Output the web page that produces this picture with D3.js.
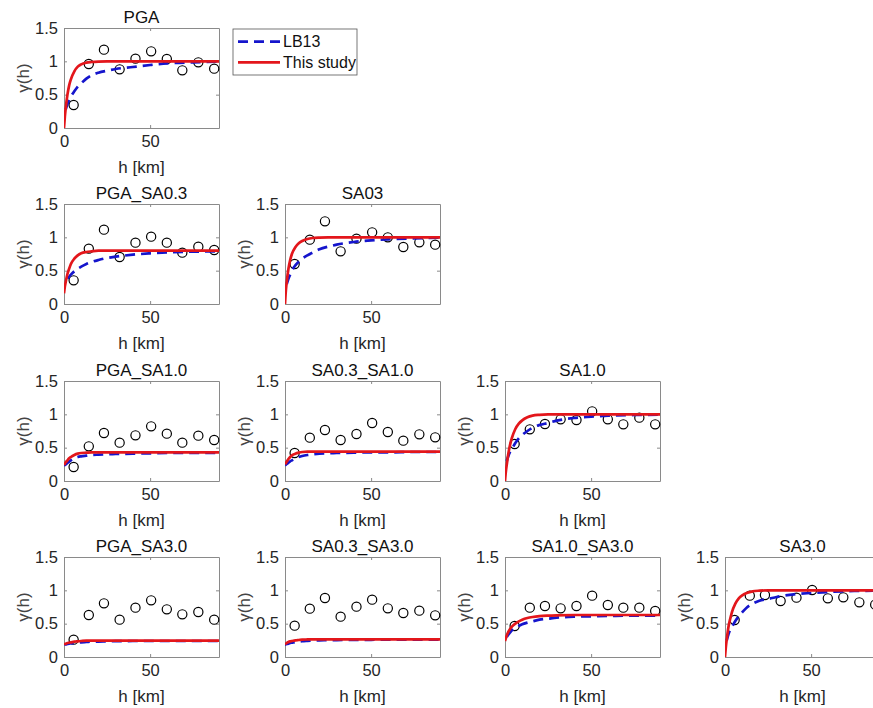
<!DOCTYPE html>
<html>
<head>
<meta charset="utf-8">
<script src="https://cdn.jsdelivr.net/npm/d3@7"></script>
<style>
  body { margin: 0; background: #fff; }
  svg text { font-family: "Liberation Sans", Arial, Helvetica, sans-serif; font-weight: normal; fill: #262626; }
</style>
</head>
<body>
<div id="fig"></div>
<script>
// observed semivariogram bins (km)
const hObs = [5.6, 14.4, 23.2, 32.3, 41.5, 50.6, 59.7, 68.7, 78.0, 87.2]
const hCurve = [0, 0.5, 1, 2, 3, 4, 6, 8, 10, 13, 16, 20, 25, 30, 40, 50, 60, 75, 90]

const titles = ["PGA", "PGA_SA0.3", "SA03", "PGA_SA1.0", "SA0.3_SA1.0", "SA1.0",
  "PGA_SA3.0", "SA0.3_SA3.0", "SA1.0_SA3.0", "SA3.0"]
const rowOf = [0, 1, 1, 2, 2, 2, 3, 3, 3, 3]
const colOf = [0, 0, 1, 0, 1, 2, 0, 1, 2, 3]

// empirical points
const obs_PGA        = [0.345, 0.96, 1.175, 0.88, 1.04, 1.15, 1.035, 0.865, 0.985, 0.89]
const obs_PGA_SA03   = [0.355, 0.83, 1.115, 0.705, 0.92, 1.01, 0.92, 0.77, 0.86, 0.81]
const obs_SA03       = [0.6, 0.965, 1.24, 0.79, 0.98, 1.075, 1.0, 0.855, 0.925, 0.89]
const obs_PGA_SA10   = [0.21, 0.52, 0.72, 0.575, 0.685, 0.82, 0.71, 0.575, 0.68, 0.615]
const obs_SA03_SA10  = [0.42, 0.65, 0.765, 0.615, 0.705, 0.87, 0.735, 0.605, 0.70, 0.655]
const obs_SA10       = [0.555, 0.775, 0.855, 0.925, 0.915, 1.045, 0.925, 0.85, 0.95, 0.85]
const obs_PGA_SA30   = [0.26, 0.63, 0.805, 0.56, 0.74, 0.85, 0.715, 0.64, 0.675, 0.56]
const obs_SA03_SA30  = [0.47, 0.725, 0.885, 0.605, 0.755, 0.86, 0.73, 0.66, 0.695, 0.625]
const obs_SA10_SA30  = [0.465, 0.74, 0.765, 0.73, 0.765, 0.92, 0.78, 0.74, 0.74, 0.69]
const obs_SA30       = [0.555, 0.92, 0.93, 0.84, 0.89, 1.005, 0.88, 0.895, 0.82, 0.785]

// LB13 model (blue dashed), null = not drawn
const lb_PGA       = [null, null, 0.28, 0.36, 0.42, 0.47, 0.55, 0.62, 0.67, 0.74, 0.79, 0.83, 0.86, 0.885, 0.915, 0.945, 0.97, 0.985, 0.995]
const lb_PGA_SA03  = [null, null, null, 0.38, 0.41, 0.44, 0.49, 0.53, 0.56, 0.60, 0.63, 0.66, 0.69, 0.71, 0.74, 0.76, 0.775, 0.785, 0.79]
const lb_SA03      = [null, null, 0.30, 0.38, 0.44, 0.50, 0.58, 0.635, 0.68, 0.73, 0.77, 0.82, 0.86, 0.89, 0.93, 0.955, 0.97, 0.985, 0.995]
const lb_PGA_SA10  = [0.23, 0.24, 0.25, 0.27, 0.29, 0.31, 0.34, 0.36, 0.37, 0.38, 0.39, 0.395, 0.40, 0.405, 0.41, 0.415, 0.42, 0.42, 0.42]
const lb_SA03_SA10 = [0.235, 0.245, 0.255, 0.275, 0.295, 0.31, 0.34, 0.36, 0.375, 0.39, 0.40, 0.41, 0.415, 0.42, 0.425, 0.43, 0.43, 0.435, 0.435]
const lb_SA10      = [null, null, 0.30, 0.38, 0.44, 0.48, 0.57, 0.64, 0.69, 0.75, 0.80, 0.84, 0.87, 0.905, 0.945, 0.965, 0.98, 0.99, 0.995]
const lb_PGA_SA30  = [0.185, 0.19, 0.19, 0.195, 0.20, 0.205, 0.21, 0.215, 0.22, 0.225, 0.23, 0.232, 0.235, 0.237, 0.24, 0.24, 0.24, 0.24, 0.24]
const lb_SA03_SA30 = [0.19, 0.19, 0.195, 0.20, 0.21, 0.215, 0.225, 0.232, 0.238, 0.243, 0.247, 0.25, 0.252, 0.254, 0.256, 0.258, 0.26, 0.26, 0.26]
const lb_SA10_SA30 = [null, null, 0.30, 0.34, 0.37, 0.40, 0.435, 0.465, 0.49, 0.515, 0.535, 0.56, 0.575, 0.59, 0.605, 0.61, 0.615, 0.62, 0.62]
const lb_SA30      = [null, null, 0.25, 0.34, 0.41, 0.45, 0.54, 0.61, 0.67, 0.75, 0.80, 0.845, 0.87, 0.90, 0.94, 0.96, 0.975, 0.99, 0.995]

// this study (red solid)
const st_PGA       = [0, 0.17, 0.30, 0.50, 0.64, 0.73, 0.85, 0.92, 0.955, 0.98, 0.99, 0.997, 1, 1, 1, 1, 1, 1, 1]
const st_PGA_SA03  = [0.16, 0.26, 0.33, 0.45, 0.53, 0.60, 0.68, 0.73, 0.76, 0.78, 0.79, 0.80, 0.80, 0.80, 0.80, 0.80, 0.80, 0.80, 0.80]
const st_SA03      = [0, 0.20, 0.33, 0.53, 0.66, 0.75, 0.85, 0.91, 0.945, 0.975, 0.99, 0.997, 1, 1, 1, 1, 1, 1, 1]
const st_PGA_SA10  = [0.24, 0.26, 0.28, 0.31, 0.34, 0.36, 0.39, 0.41, 0.42, 0.425, 0.43, 0.43, 0.43, 0.43, 0.43, 0.43, 0.43, 0.43, 0.43]
const st_SA03_SA10 = [0.25, 0.27, 0.29, 0.33, 0.36, 0.385, 0.41, 0.425, 0.435, 0.44, 0.44, 0.44, 0.44, 0.44, 0.44, 0.44, 0.44, 0.44, 0.44]
const st_SA10      = [0, 0.14, 0.24, 0.42, 0.55, 0.645, 0.78, 0.86, 0.91, 0.955, 0.98, 0.993, 1, 1, 1, 1, 1, 1, 1]
const st_PGA_SA30  = [0.19, 0.195, 0.20, 0.21, 0.215, 0.22, 0.23, 0.235, 0.24, 0.245, 0.245, 0.245, 0.245, 0.245, 0.245, 0.245, 0.245, 0.245, 0.245]
const st_SA03_SA30 = [0.195, 0.20, 0.21, 0.225, 0.235, 0.24, 0.25, 0.255, 0.26, 0.263, 0.265, 0.265, 0.265, 0.265, 0.265, 0.265, 0.265, 0.265, 0.265]
const st_SA10_SA30 = [0.24, 0.28, 0.32, 0.38, 0.425, 0.455, 0.50, 0.535, 0.56, 0.585, 0.60, 0.612, 0.62, 0.625, 0.63, 0.63, 0.63, 0.63, 0.63]
const st_SA30      = [0, 0.15, 0.26, 0.45, 0.57, 0.67, 0.80, 0.88, 0.925, 0.965, 0.985, 0.995, 1, 1, 1, 1, 1, 1, 1]

const obsList = [obs_PGA, obs_PGA_SA03, obs_SA03, obs_PGA_SA10, obs_SA03_SA10, obs_SA10, obs_PGA_SA30, obs_SA03_SA30, obs_SA10_SA30, obs_SA30]
const lbList = [lb_PGA, lb_PGA_SA03, lb_SA03, lb_PGA_SA10, lb_SA03_SA10, lb_SA10, lb_PGA_SA30, lb_SA03_SA30, lb_SA10_SA30, lb_SA30]
const stList = [st_PGA, st_PGA_SA03, st_SA03, st_PGA_SA10, st_SA03_SA10, st_SA10, st_PGA_SA30, st_SA03_SA30, st_SA10_SA30, st_SA30]

const xTicks = [0, 50]
const yTicks = [0, 0.5, 1, 1.5]

const W = 873, H = 708
const colLeft = [64, 285, 505, 725]
const rowTop = [28, 204, 381, 557]
const pw = 155, ph = 100
const red = "#e3161b", blue = "#1515cc", boxColor = "#8a8a8a"

const svg = d3.select("#fig").append("svg").attr("width", W).attr("height", H)

const x = d3.scaleLinear().domain([0, 90]).range([0, pw])
const y = d3.scaleLinear().domain([0, 1.5]).range([ph, 0])

const line = d3.line()
  .defined(d => d[1] != null)
  .x(d => x(d[0])).y(d => y(d[1]))
  .curve(d3.curveMonotoneX)

titles.forEach((t, i) => {
  let g = svg.append("g").attr("transform", `translate(${colLeft[colOf[i]]},${rowTop[rowOf[i]]})`)

  // box + inward ticks (matlab style)
  let styleAxis = sel => {
    sel.select(".domain").attr("stroke", boxColor)
    sel.selectAll(".tick line").attr("stroke", boxColor)
    sel.selectAll("text").attr("font-size", 16.5).attr("fill", "#262626").attr("font-family", null)
  }
  g.append("g").attr("transform", `translate(0,${ph})`)
    .call(d3.axisBottom(x).tickValues(xTicks).tickSizeInner(-3).tickSizeOuter(0).tickPadding(7).tickFormat(d3.format("")))
    .call(styleAxis)
  g.append("g")
    .call(d3.axisTop(x).tickValues(xTicks).tickSizeInner(-3).tickSizeOuter(0).tickFormat(""))
    .call(styleAxis)
  g.append("g")
    .call(d3.axisLeft(y).tickValues(yTicks).tickSizeInner(-3).tickSizeOuter(0).tickPadding(6).tickFormat(d3.format("")))
    .call(styleAxis)
  g.append("g").attr("transform", `translate(${pw},0)`)
    .call(d3.axisRight(y).tickValues(yTicks).tickSizeInner(-3).tickSizeOuter(0).tickFormat(""))
    .call(styleAxis)

  let clip = "clip" + i
  g.append("clipPath").attr("id", clip).append("rect").attr("width", pw).attr("height", ph)

  // data circles
  g.selectAll("circle").data(hObs.map((h, k) => [h, obsList[i][k]])).enter().append("circle")
    .attr("cx", d => x(d[0])).attr("cy", d => y(d[1])).attr("r", 4.6)
    .attr("fill", "none").attr("stroke", "#000").attr("stroke-width", 1.2)

  g.append("path").datum(hCurve.map((h, k) => [h, lbList[i][k]]))
    .attr("d", line).attr("fill", "none").attr("stroke", blue)
    .attr("stroke-width", 2.7).attr("stroke-dasharray", "10,6")
    .attr("clip-path", `url(#${clip})`)
  g.append("path").datum(hCurve.map((h, k) => [h, stList[i][k]]))
    .attr("d", line).attr("fill", "none").attr("stroke", red)
    .attr("stroke-width", 2.7)
    .attr("clip-path", `url(#${clip})`)

  g.append("text").attr("x", pw / 2).attr("y", -5).attr("text-anchor", "middle")
    .attr("font-size", 17).style("fill", "#111").text(t)
  g.append("text").attr("x", pw / 2).attr("y", ph + 45).attr("text-anchor", "middle")
    .attr("font-size", 17).text("h [km]")
  g.append("text").attr("transform", `translate(-35,${ph / 2}) rotate(-90)`)
    .attr("text-anchor", "middle").attr("font-size", 17).style("fill", "#444").text("γ(h)")
})

// legend
let lg = svg.append("g").attr("transform", "translate(233,29)")
lg.append("rect").attr("width", 124).attr("height", 46).attr("fill", "#fff").attr("stroke", "#555").attr("stroke-width", 0.8)
let items = [["LB13", blue, "10,6"], ["This study", red, null]]
items.forEach((it, k) => {
  let yy = 12.7 + k * 20.6
  lg.append("line").attr("x1", 5).attr("x2", 47).attr("y1", yy).attr("y2", yy)
    .attr("stroke", it[1]).attr("stroke-width", 2.7).attr("stroke-dasharray", it[2])
  lg.append("text").attr("x", 50).attr("y", yy + 5.5).attr("font-size", 16).style("fill", "#111").text(it[0])
})
</script>
</body>
</html>
